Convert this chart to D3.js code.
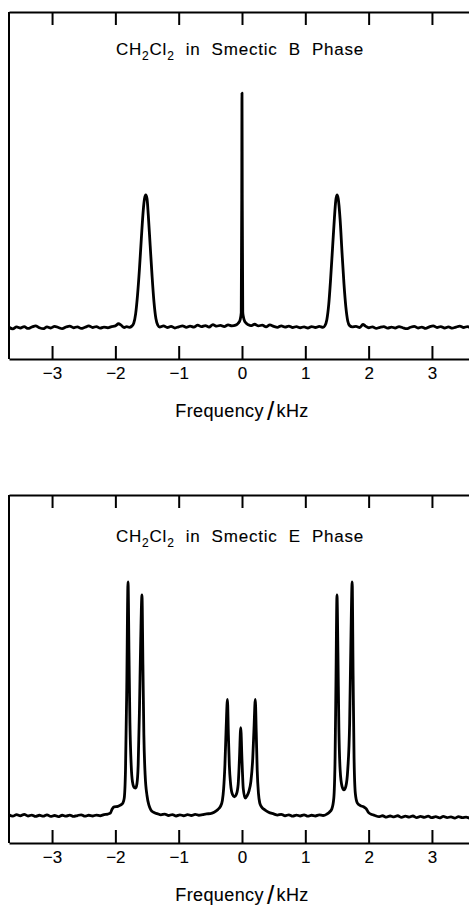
<!DOCTYPE html>
<html>
<head>
<meta charset="utf-8">
<script src="https://cdn.jsdelivr.net/npm/d3@7"></script>
<style>
  body { margin: 0; background: #fff; }
  svg { display: block; }
  text { font-family: "Liberation Sans", Arial, Helvetica, sans-serif; fill: #000; stroke: #000; stroke-width: 0.12px; }
</style>
</head>
<body>
<svg width="469" height="911"></svg>
<script>
// tick values (kHz)
var ticks = [-3, -2, -1, 0, 1, 2, 3];

// spectrum in smectic B phase: [frequency kHz, intensity]
var phaseB = [
  [-3.68,0.3],[-3.62,-0.4],[-3.56,0.5],[-3.50,0.0],[-3.44,0.6],[-3.38,-0.2],[-3.32,0.4],[-3.26,0.9],
  [-3.20,0.1],[-3.14,-0.3],[-3.08,0.5],[-3.02,0.0],[-2.96,0.7],[-2.90,0.2],[-2.84,-0.3],[-2.78,0.4],
  [-2.72,0.8],[-2.66,0.1],[-2.60,0.5],[-2.54,-0.2],[-2.48,0.3],[-2.42,0.9],[-2.36,0.2],[-2.30,0.6],
  [-2.24,-0.1],[-2.18,0.4],[-2.12,0.1],[-2.06,0.6],[-2.00,0.9],[-1.95,1.8],[-1.91,1.2],[-1.86,0.2],
  [-1.82,0.6],[-1.78,0.3],
  [-1.74,0.8],[-1.71,2],[-1.68,6],[-1.65,14],[-1.62,25],[-1.59,38],[-1.56,50],[-1.54,55],
  [-1.52,56.6],[-1.50,55],[-1.48,48],[-1.45,35],[-1.42,22],[-1.39,11],[-1.36,4],[-1.33,1.2],
  [-1.30,0.4],[-1.24,0.9],[-1.18,0.2],[-1.12,0.7],[-1.06,0.0],[-1.00,0.5],[-0.94,0.9],[-0.88,0.3],
  [-0.82,0.8],[-0.76,0.4],[-0.70,1.2],[-0.64,0.6],[-0.58,1.0],[-0.52,0.4],[-0.46,1.4],[-0.40,0.8],
  [-0.34,1.1],[-0.28,0.6],[-0.22,1.3],[-0.16,0.9],[-0.10,1.2],[-0.06,2.0],[-0.03,3.5],[-0.012,6.5],
  [-0.004,55],[0,100],[0.004,55],[0.012,6.5],[0.03,3.8],[0.06,2.2],[0.10,1.4],[0.14,1.0],
  [0.20,1.6],[0.26,0.9],[0.32,1.2],[0.38,0.5],[0.44,1.3],[0.50,0.7],[0.56,0.3],[0.62,0.9],
  [0.68,0.4],[0.74,0.8],[0.80,0.2],[0.86,0.6],[0.92,0.1],[0.98,0.5],[1.04,0.0],[1.10,0.6],
  [1.16,0.2],[1.22,0.7],[1.28,0.3],
  [1.31,1.0],[1.34,3.5],[1.37,10],[1.40,21],[1.43,34],[1.46,47],[1.48,54],[1.50,56.6],
  [1.52,55],[1.55,46],[1.58,32],[1.61,19],[1.64,9],[1.67,3],[1.70,1.0],[1.74,0.5],
  [1.80,0.7],[1.86,0.2],[1.91,1.5],[1.95,0.8],[2.00,0.1],[2.06,0.5],[2.12,-0.2],[2.18,0.3],
  [2.24,0.6],[2.30,-0.1],[2.36,0.4],[2.42,0.0],[2.48,0.6],[2.54,0.1],[2.60,-0.3],[2.66,0.3],
  [2.72,0.7],[2.78,0.0],[2.84,0.4],[2.90,-0.2],[2.96,0.5],[3.02,0.9],[3.08,0.2],[3.14,0.6],
  [3.20,0.0],[3.26,0.5],[3.32,-0.1],[3.38,0.4],[3.44,0.8],[3.50,0.2],[3.56,0.6],[3.62,0.1],[3.68,0.5]
];

// spectrum in smectic E phase: [frequency kHz, intensity]
var phaseE = [
  [-3.68,0.9],[-3.62,0.3],[-3.56,1.0],[-3.50,0.5],[-3.44,1.1],[-3.38,0.4],[-3.32,0.8],[-3.26,0.2],
  [-3.20,0.7],[-3.14,0.3],[-3.08,0.9],[-3.02,0.2],[-2.96,0.6],[-2.90,0.1],[-2.84,0.7],[-2.78,0.3],
  [-2.72,0.8],[-2.66,0.2],[-2.60,0.6],[-2.54,0.9],[-2.48,0.3],[-2.42,0.7],[-2.36,0.4],[-2.30,0.8],
  [-2.24,0.5],[-2.18,1.0],[-2.12,1.2],[-2.08,1.6],[-2.05,3.4],[-2.02,4.3],[-1.96,4.5],[-1.92,5.0],
  [-1.88,6],[-1.86,8],[-1.84,20],[-1.82,55],[-1.80,100],[-1.785,70],[-1.77,40],[-1.75,22],
  [-1.73,15],[-1.70,12.5],[-1.68,12.3],[-1.66,14],[-1.64,22],[-1.62,45],[-1.60,75],[-1.58,94.5],
  [-1.565,65],[-1.55,35],[-1.53,18],[-1.50,9],[-1.47,5],[-1.44,3],[-1.40,2],[-1.34,1.4],
  [-1.28,0.9],[-1.22,1.2],[-1.16,0.6],[-1.10,1.0],[-1.04,0.4],[-0.98,0.9],[-0.92,0.5],[-0.86,1.0],
  [-0.80,0.6],[-0.74,1.1],[-0.68,0.7],[-0.62,1.0],[-0.56,1.3],[-0.50,1.4],[-0.44,2.0],[-0.38,3.2],
  [-0.34,4.5],[-0.31,7],[-0.29,12],[-0.27,22],[-0.25,38],[-0.23,50],[-0.215,35],[-0.20,22],
  [-0.18,14],[-0.15,9.5],[-0.12,8.5],[-0.09,9.5],[-0.06,14],[-0.04,25],[-0.02,38],[0.0,24],
  [0.02,12],[0.05,8],[0.08,9],[0.11,11],[0.14,15],[0.17,25],[0.19,38],[0.21,50],
  [0.225,36],[0.24,20],[0.26,10],[0.28,6],[0.31,4.2],[0.36,3],[0.42,2],[0.50,1.3],
  [0.56,0.8],[0.62,1.1],[0.68,0.5],[0.74,0.9],[0.80,0.3],[0.86,0.8],[0.92,0.4],[0.98,0.9],
  [1.04,0.3],[1.10,0.7],[1.16,0.4],[1.22,0.9],[1.28,0.6],[1.34,1.2],[1.38,2.0],[1.42,3.5],
  [1.45,8],[1.47,25],[1.485,60],[1.50,94.5],[1.515,70],[1.53,38],[1.55,20],[1.58,13],
  [1.61,11.5],[1.64,13],[1.67,20],[1.70,40],[1.72,75],[1.74,100],[1.755,60],[1.77,25],
  [1.79,10],[1.82,6],[1.87,4.8],[1.92,4.3],[1.96,3.5],[2.00,1.8],[2.05,1.0],[2.10,0.6],
  [2.16,0.1],[2.22,0.5],[2.28,-0.1],[2.34,0.4],[2.40,0.0],[2.46,0.5],[2.52,-0.2],[2.58,0.3],
  [2.64,-0.1],[2.70,0.4],[2.76,-0.3],[2.82,0.2],[2.88,-0.2],[2.94,0.3],[3.00,-0.3],[3.06,0.1],
  [3.12,-0.4],[3.18,0.2],[3.24,-0.3],[3.30,0.0],[3.36,-0.5],[3.42,0.1],[3.48,-0.3],[3.54,-0.1],
  [3.60,-0.5],[3.68,-0.2]
];

var titles = ["Smectic  B  Phase", "Smectic  E  Phase"];

var svg = d3.select("svg");

var x = d3.scaleLinear().domain([-3.68, 3.68]).range([9, 475]);

var panels = [
  { data: phaseB, title: titles[0], top: 12, bottom: 359, titleY: 55, yDomain: [-13.2, 134.5] },
  { data: phaseE, title: titles[1], top: 495, bottom: 843, titleY: 542, yDomain: [-11.1, 137] }
];

panels.forEach(function (p) {
  var y = d3.scaleLinear().domain(p.yDomain).range([p.bottom, p.top]);
  var g = svg.append("g");

  // frame: left side
  g.append("line")
      .attr("x1", 9).attr("x2", 9)
      .attr("y1", p.top).attr("y2", p.bottom)
      .attr("stroke", "#000").attr("stroke-width", 2);

  var topAxis = d3.axisTop(x).tickValues(ticks).tickSizeInner(-13).tickSizeOuter(0).tickFormat("");
  var botAxis = d3.axisBottom(x).tickValues(ticks).tickSizeInner(-13).tickSizeOuter(0).tickPadding(8);

  var ta = g.append("g").attr("transform", "translate(0," + p.top + ")").call(topAxis);
  var ba = g.append("g").attr("transform", "translate(0," + p.bottom + ")").call(botAxis);

  [ta, ba].forEach(function (a) {
    a.select(".domain").attr("stroke", "#000").attr("stroke-width", 2);
    a.selectAll(".tick line").attr("stroke", "#000").attr("stroke-width", 2);
  });
  ba.attr("font-size", null).attr("font-family", null);
  ba.selectAll(".tick text")
      .style("font-size", "17px")
      .style("font-family", "Liberation Sans, Arial, sans-serif")
      .attr("fill", "#000");

  var line = d3.line()
      .x(function (d) { return x(d[0]); })
      .y(function (d) { return y(d[1]); })
      .curve(d3.curveMonotoneX);

  g.append("path")
      .datum(p.data)
      .attr("fill", "none")
      .attr("stroke", "#000")
      .attr("stroke-width", 2.8)
      .attr("stroke-linejoin", "round")
      .attr("d", line);

  // title with subscripts
  var t = g.append("text")
      .attr("x", 240)
      .attr("y", p.titleY)
      .attr("text-anchor", "middle")
      .attr("font-size", 17)
      .attr("letter-spacing", 0.8);
  t.append("tspan").text("CH");
  t.append("tspan").attr("font-size", 12).attr("dy", 5).text("2");
  t.append("tspan").attr("dy", -5).text("Cl");
  t.append("tspan").attr("font-size", 12).attr("dy", 5).text("2");
  t.append("tspan").attr("dy", -5).style("white-space", "pre").text("  in  " + p.title);

  // x axis label
  var xl = g.append("text")
      .attr("x", 242)
      .attr("y", p.bottom + 58)
      .attr("text-anchor", "middle")
      .attr("font-size", 18)
      .attr("letter-spacing", 0.4);
  xl.append("tspan").text("Frequency");
  xl.append("tspan").attr("font-size", 26).attr("dy", 3).attr("dx", 3).text("/");
  xl.append("tspan").attr("dy", -3).attr("dx", 2).text("kHz");
});
</script>
</body>
</html>
